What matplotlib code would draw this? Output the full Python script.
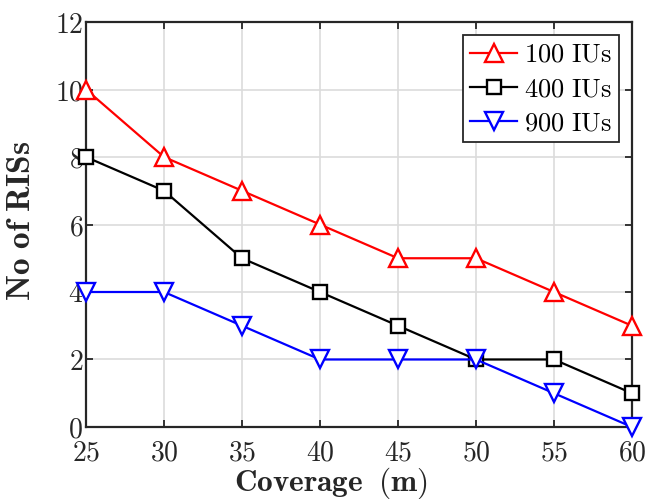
import matplotlib
matplotlib.use("Agg")
import matplotlib.pyplot as plt
from matplotlib.ticker import FuncFormatter

plt.rcParams['mathtext.fontset'] = 'cm'
plt.rcParams['font.family'] = 'serif'

coverage = [25, 30, 35, 40, 45, 50, 55, 60]
ris_100 = [10, 8, 7, 6, 5, 5, 4, 3]
ris_400 = [8, 7, 5, 4, 3, 2, 2, 1]
ris_900 = [4, 4, 3, 2, 2, 2, 1, 0]

fig = plt.figure(figsize=(6.59, 4.99), dpi=100)
ax = fig.add_axes([0.1305, 0.1443, 0.8285, 0.8116])

ax.plot(coverage, ris_100, '-^', color='red', lw=1.6, ms=13, mfc='white', mew=1.7,
        label=r'$\mathrm{100\ IUs}$', clip_on=False, zorder=3)
ax.plot(coverage, ris_400, '-s', color='black', lw=1.6, ms=9.5, mfc='white', mew=1.7,
        label=r'$\mathrm{400\ IUs}$', clip_on=False, zorder=3)
ax.plot(coverage, ris_900, '-v', color='blue', lw=1.6, ms=13, mfc='white', mew=1.7,
        label=r'$\mathrm{900\ IUs}$', clip_on=False, zorder=3)

ax.set_xlim(25, 60)
ax.set_ylim(0, 12)
ax.set_xticks(coverage)
ax.set_yticks(range(0, 13, 2))
fmt = FuncFormatter(lambda v, p: r'$%d$' % v)
ax.xaxis.set_major_formatter(fmt)
ax.yaxis.set_major_formatter(fmt)
ax.tick_params(direction='in', length=5, width=1.3, labelsize=20, colors='#262626',
               top=True, right=True, pad=9)
ax.tick_params(axis='y', pad=2)
ax.grid(True, color='#dcdcdc', lw=1.2)
for s in ax.spines.values():
    s.set_linewidth(1.6)
    s.set_color('#262626')

ax.set_xlabel(r'$\mathbf{Coverage\;\ (m)}$', fontsize=22.5, color='#262626')
ax.set_ylabel(r'$\mathbf{No\ of\ RISs}$', fontsize=24, color='#262626')
ax.xaxis.set_label_coords(0.449, -0.094)
ax.yaxis.set_label_coords(-0.09, 0.51)

leg = ax.legend(loc='upper right', fontsize=19, fancybox=False, framealpha=1,
                edgecolor='#262626', handlelength=1.8, borderpad=0.25,
                labelspacing=0.35, handletextpad=0.25, borderaxespad=0.5)
leg.get_frame().set_linewidth(1.3)

fig.savefig('out.png', dpi=100)
